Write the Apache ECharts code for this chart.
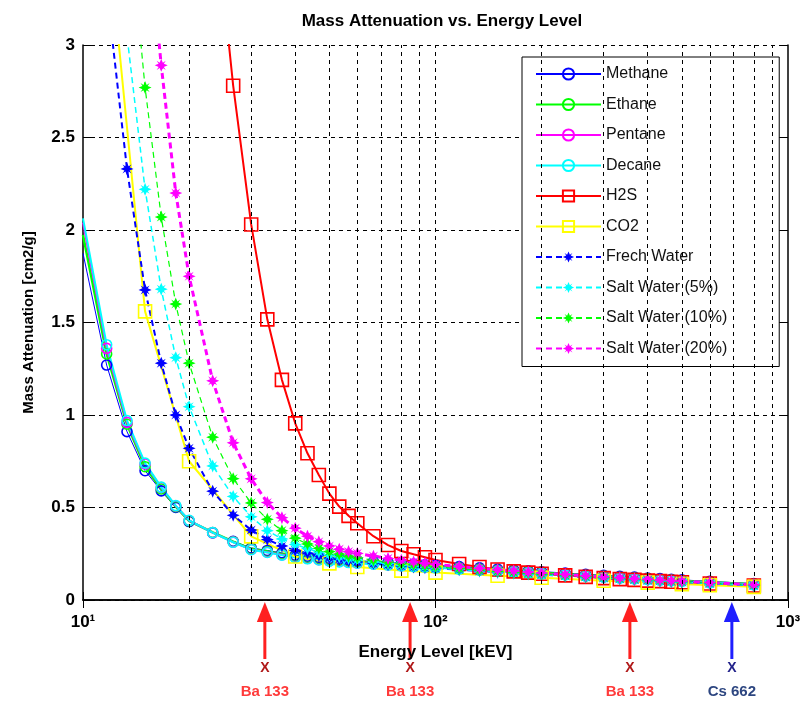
<!DOCTYPE html>
<html>
<head>
<meta charset="utf-8">
<script src="https://cdn.jsdelivr.net/npm/echarts@6/dist/echarts.min.js"></script>
<style>
html,body{margin:0;padding:0;background:#fff;}
#chart{width:812px;height:704px;}
</style>
</head>
<body>
<div id="chart"></div>
<script>
// ---- Data ----
const energies = [10, 11.67, 13.33, 15, 16.67, 18.33, 20, 23.33, 26.67, 30, 33.33, 36.67, 40, 43.33, 46.67, 50, 53.33, 56.67, 60, 66.67, 73.33, 80, 86.67, 93.33, 100, 116.7, 133.3, 150, 166.7, 183.3, 200, 233.3, 266.7, 300, 333.3, 366.7, 400, 433.3, 466.7, 500, 600, 800];
const co2Energies = [10, 15, 20, 30, 40, 50, 60, 80, 100, 150, 200, 300, 400, 500, 600, 800];

const methane = [1.874, 1.27, 0.91, 0.699, 0.590, 0.500, 0.424, 0.363, 0.317, 0.2815, 0.2678, 0.2547, 0.2423, 0.2362, 0.2302, 0.2244, 0.2206, 0.2168, 0.2131, 0.2080, 0.2030, 0.1982, 0.1945, 0.1909, 0.1874, 0.1805, 0.1739, 0.1675, 0.1626, 0.1578, 0.1531, 0.1460, 0.1393, 0.1329, 0.1281, 0.1235, 0.1190, 0.1155, 0.1120, 0.1087, 0.1005, 0.0883];
const ethane = [1.973, 1.33, 0.95, 0.7205, 0.600, 0.505, 0.4274, 0.365, 0.315, 0.2765, 0.2621, 0.2484, 0.2354, 0.2291, 0.2229, 0.217, 0.2131, 0.2093, 0.2056, 0.2005, 0.1956, 0.1908, 0.1872, 0.1837, 0.1802, 0.1735, 0.1671, 0.1609, 0.1561, 0.1515, 0.147, 0.1403, 0.1338, 0.1277, 0.1231, 0.1187, 0.1144, 0.111, 0.1077, 0.1044, 0.0966, 0.0848];
const pentane = [2.04, 1.36, 0.96, 0.7349, 0.608, 0.508, 0.4298, 0.364, 0.313, 0.2731, 0.2582, 0.2441, 0.2308, 0.2243, 0.218, 0.2119, 0.208, 0.2042, 0.2005, 0.1955, 0.1906, 0.1858, 0.1822, 0.1787, 0.1753, 0.1688, 0.1625, 0.1565, 0.1519, 0.1474, 0.143, 0.1364, 0.1301, 0.1241, 0.1196, 0.1153, 0.1112, 0.1079, 0.1046, 0.1015, 0.0939, 0.0824];
const decane = [2.063, 1.38, 0.97, 0.74, 0.61, 0.51, 0.4307, 0.364, 0.312, 0.2719, 0.2569, 0.2426, 0.2292, 0.2227, 0.2164, 0.2102, 0.2063, 0.2025, 0.1988, 0.1938, 0.1889, 0.1841, 0.1806, 0.1771, 0.1737, 0.1672, 0.161, 0.155, 0.1504, 0.1459, 0.1416, 0.1351, 0.1288, 0.1229, 0.1185, 0.1142, 0.1101, 0.1068, 0.1036, 0.1005, 0.0929, 0.0816];
const h2s = [30, 21, 15.5, 11.5, 9.0, 7.0, 5.6, 3.85, 2.78, 2.03, 1.517, 1.19, 0.955, 0.793, 0.676, 0.575, 0.505, 0.455, 0.415, 0.345, 0.297, 0.265, 0.247, 0.231, 0.216, 0.195, 0.178, 0.165, 0.155, 0.148, 0.142, 0.133, 0.125, 0.118, 0.113, 0.109, 0.105, 0.102, 0.099, 0.096, 0.089, 0.078];
const co2 = [4.975, 1.56, 0.75, 0.344, 0.235, 0.198, 0.178, 0.159, 0.148, 0.131, 0.12, 0.104, 0.094, 0.086, 0.08, 0.071];
const freshWater = [5.33, 3.3, 2.33, 1.676, 1.28, 1.0, 0.82, 0.588, 0.458, 0.378, 0.327, 0.292, 0.268, 0.254, 0.240, 0.227, 0.220, 0.213, 0.206, 0.198, 0.191, 0.184, 0.179, 0.175, 0.171, 0.164, 0.157, 0.1505, 0.146, 0.1414, 0.137, 0.1306, 0.1244, 0.1186, 0.1143, 0.1101, 0.1061, 0.1029, 0.0999, 0.0969, 0.0896, 0.0787];
const salt5 = [6.6, 4.4, 3.05, 2.22, 1.68, 1.31, 1.045, 0.725, 0.56, 0.45, 0.375, 0.33, 0.30, 0.278, 0.259, 0.243, 0.233, 0.224, 0.215, 0.205, 0.196, 0.188, 0.183, 0.178, 0.173, 0.165, 0.158, 0.151, 0.146, 0.141, 0.137, 0.1305, 0.1243, 0.1185, 0.1142, 0.110, 0.106, 0.1028, 0.0998, 0.0967, 0.0894, 0.0785];
const salt10 = [8.3, 5.5, 3.8, 2.77, 2.07, 1.60, 1.28, 0.88, 0.656, 0.525, 0.436, 0.375, 0.334, 0.303, 0.28, 0.262, 0.248, 0.237, 0.229, 0.215, 0.204, 0.196, 0.19, 0.184, 0.179, 0.170, 0.162, 0.155, 0.1495, 0.1447, 0.1405, 0.1335, 0.127, 0.1215, 0.117, 0.1127, 0.109, 0.1055, 0.1023, 0.0993, 0.092, 0.0806];
const salt20 = [13, 8.5, 5.6, 3.8, 2.89, 2.20, 1.75, 1.185, 0.85, 0.655, 0.527, 0.445, 0.388, 0.345, 0.315, 0.292, 0.275, 0.262, 0.252, 0.237, 0.225, 0.215, 0.206, 0.199, 0.193, 0.181, 0.171, 0.163, 0.157, 0.151, 0.146, 0.138, 0.131, 0.125, 0.12, 0.1155, 0.1115, 0.108, 0.1045, 0.1015, 0.094, 0.0825];

const seriesNames = ['Methane', 'Ethane', 'Pentane', 'Decane', 'H2S', 'CO2', 'Frech Water', 'Salt Water (5%)', 'Salt Water (10%)', 'Salt Water (20%)'];
const yTicks = [0, 0.5, 1, 1.5, 2, 2.5, 3];
const xGridValues = [20, 30, 40, 50, 60, 70, 80, 90, 100, 200, 300, 400, 500, 600, 700, 800, 900];
const xTickLabels = {10: '10\u00B9', 100: '10\u00B2', 1000: '10\u00B3'};

const arrowEnergies = [32.8, 84.7, 356, 693];
const arrowLabels = ['Ba 133', 'Ba 133', 'Ba 133', 'Cs 662'];

// ---- Styling ----
const FONT = '"Liberation Sans", Arial, sans-serif';
const STAR = 'path://M0,-10 L2.5,-4 L7,-7 L4,-2.5 L10,0 L4,2.5 L7,7 L2.5,4 L0,10 L-2.5,4 L-7,7 L-4,2.5 L-10,0 L-4,-2.5 L-7,-7 L-2.5,-4 Z';

// build [x, y] items; the point sitting on the left frame gets no marker (as in the reference)
function pairs(xs, ys, hideEdge) {
  return xs.map((x, i) => (hideEdge && x <= 10) ? {value: [x, ys[i]], symbol: 'none'} : [x, ys[i]]);
}

const specs = [
  {data: pairs(energies, methane, true), color: '#0000ff', width: 1, type: 'solid', symbol: 'circle', size: 10, hollow: true},
  {data: pairs(energies, ethane, true), color: '#00ff00', width: 2.5, type: 'solid', symbol: 'circle', size: 10, hollow: true},
  {data: pairs(energies, pentane, true), color: '#ff00ff', width: 2, type: 'solid', symbol: 'circle', size: 10, hollow: true},
  {data: pairs(energies, decane, true), color: '#00ffff', width: 2, type: 'solid', symbol: 'circle', size: 10, hollow: true},
  {data: pairs(energies, h2s), color: '#ff0000', width: 2, type: 'solid', symbol: 'rect', size: 13, hollow: true},
  {data: pairs(co2Energies, co2), color: '#ffff00', width: 2, type: 'solid', symbol: 'rect', size: 13, hollow: true},
  {data: pairs(energies, freshWater), color: '#0000ff', width: 2, type: [6, 4], symbol: STAR, size: 13, hollow: false},
  {data: pairs(energies, salt5), color: '#00ffff', width: 1.5, type: [6, 4], symbol: STAR, size: 13, hollow: false},
  {data: pairs(energies, salt10), color: '#00ff00', width: 1.2, type: [6, 4], symbol: STAR, size: 13, hollow: false},
  {data: pairs(energies, salt20), color: '#ff00ff', width: 3, type: [6, 4], symbol: STAR, size: 13, hollow: false}
];

const series = [{
  type: 'line', name: '_grid', data: [], z: 1, silent: true, legendHoverLink: false,
  markLine: {
    silent: true, symbol: 'none', label: {show: false}, animation: false,
    lineStyle: {color: '#000', width: 1, type: [4, 4]},
    data: xGridValues.map(v => ({xAxis: v}))
  }
}];
specs.forEach((s, i) => {
  series.push({
    type: 'line', name: seriesNames[i], data: s.data, z: 3,
    clip: true, showAllSymbol: true,
    symbol: s.symbol, symbolSize: s.size,
    lineStyle: {color: s.color, width: s.width, type: s.type},
    itemStyle: s.hollow
      ? {color: 'rgba(255,255,255,0)', borderColor: s.color, borderWidth: 1.6}
      : {color: s.color, borderColor: s.color, borderWidth: 0},
    emphasis: {disabled: true}
  });
});

const chart = echarts.init(document.getElementById('chart'), null, {renderer: 'canvas'});
const axisCommonX = {
  type: 'log', logBase: 10, min: 10, max: 1000,
  axisLine: {show: true, lineStyle: {color: '#000', width: 1.5}},
  axisTick: {show: true, inside: true, length: 8, lineStyle: {color: '#000'}},
  splitLine: {show: false}
};
const axisCommonY = {
  type: 'value', min: 0, max: 3, interval: 0.5,
  axisLine: {show: true, lineStyle: {color: '#000', width: 1.5}},
  axisTick: {show: true, inside: true, length: 8, lineStyle: {color: '#000'}}
};

chart.setOption({
  animation: false,
  backgroundColor: '#fff',
  title: {
    text: 'Mass Attenuation vs. Energy Level',
    left: 437, top: 8, textAlign: 'center',
    textStyle: {fontFamily: FONT, fontWeight: 'bold', fontSize: 17, color: '#000'}
  },
  grid: {left: 83, right: 24, top: 45, bottom: 104},
  legend: {
    orient: 'vertical', left: 522, top: 57,
    backgroundColor: '#fff', borderColor: '#000', borderWidth: 1,
    padding: [9, 52, 10, 13],
    itemWidth: 65, itemHeight: 14, itemGap: 14.5,
    data: seriesNames,
    textStyle: {fontFamily: FONT, fontSize: 16, color: '#111'}
  },
  xAxis: [
    Object.assign({}, axisCommonX, {
      position: 'bottom',
      name: 'Energy Level [kEV]', nameLocation: 'middle', nameGap: 44,
      nameTextStyle: {fontFamily: FONT, fontWeight: 'bold', fontSize: 17, color: '#000'},
      axisLabel: {
        show: true, margin: 14, color: '#000', fontFamily: FONT, fontWeight: 'bold', fontSize: 17,
        formatter: v => xTickLabels[Math.round(v)] || ''
      }
    }),
    Object.assign({}, axisCommonX, {position: 'top', axisLabel: {show: false}})
  ],
  yAxis: [
    Object.assign({}, axisCommonY, {
      position: 'left',
      name: 'Mass Attenuation [cm2/g]', nameLocation: 'middle', nameGap: 47, nameRotate: 90,
      nameTextStyle: {fontFamily: FONT, fontWeight: 'bold', fontSize: 15, color: '#000'},
      axisLabel: {
        color: '#000', fontFamily: FONT, fontWeight: 'bold', fontSize: 17, margin: 8,
        formatter: v => (yTicks.indexOf(v) >= 0 ? String(v) : '')
      },
      splitLine: {show: true, lineStyle: {color: '#000', width: 1, type: [4, 4]}}
    }),
    Object.assign({}, axisCommonY, {position: 'right', axisLabel: {show: false}, splitLine: {show: false}})
  ],
  series: series
});

// ---- Annotation arrows below the x axis, positioned through the axis scale ----
const y0 = chart.convertToPixel({yAxisIndex: 0}, 0);
const gfx = [];
arrowEnergies.forEach((e, i) => {
  const x = chart.convertToPixel({xAxisIndex: 0}, e);
  const isCs = arrowLabels[i].indexOf('Cs') === 0;
  const col = isCs ? '#1f1fff' : '#ff2020';
  const xCol = isCs ? '#22228a' : '#b01818';
  const lCol = isCs ? '#2d4680' : '#ff3a3a';
  gfx.push({type: 'polygon', shape: {points: [[x, y0 + 2], [x - 8, y0 + 22], [x + 8, y0 + 22]]}, style: {fill: col}});
  gfx.push({type: 'rect', shape: {x: x - 1.5, y: y0 + 18, width: 3, height: 41}, style: {fill: col}});
  gfx.push({type: 'text', x: x, y: y0 + 68, style: {text: 'X', fill: xCol, font: 'bold 14px ' + FONT, align: 'center', verticalAlign: 'middle'}});
  gfx.push({type: 'text', x: x, y: y0 + 92, style: {text: arrowLabels[i], fill: lCol, font: 'bold 15px ' + FONT, align: 'center', verticalAlign: 'middle'}});
});
chart.setOption({graphic: gfx});
</script>
</body>
</html>
